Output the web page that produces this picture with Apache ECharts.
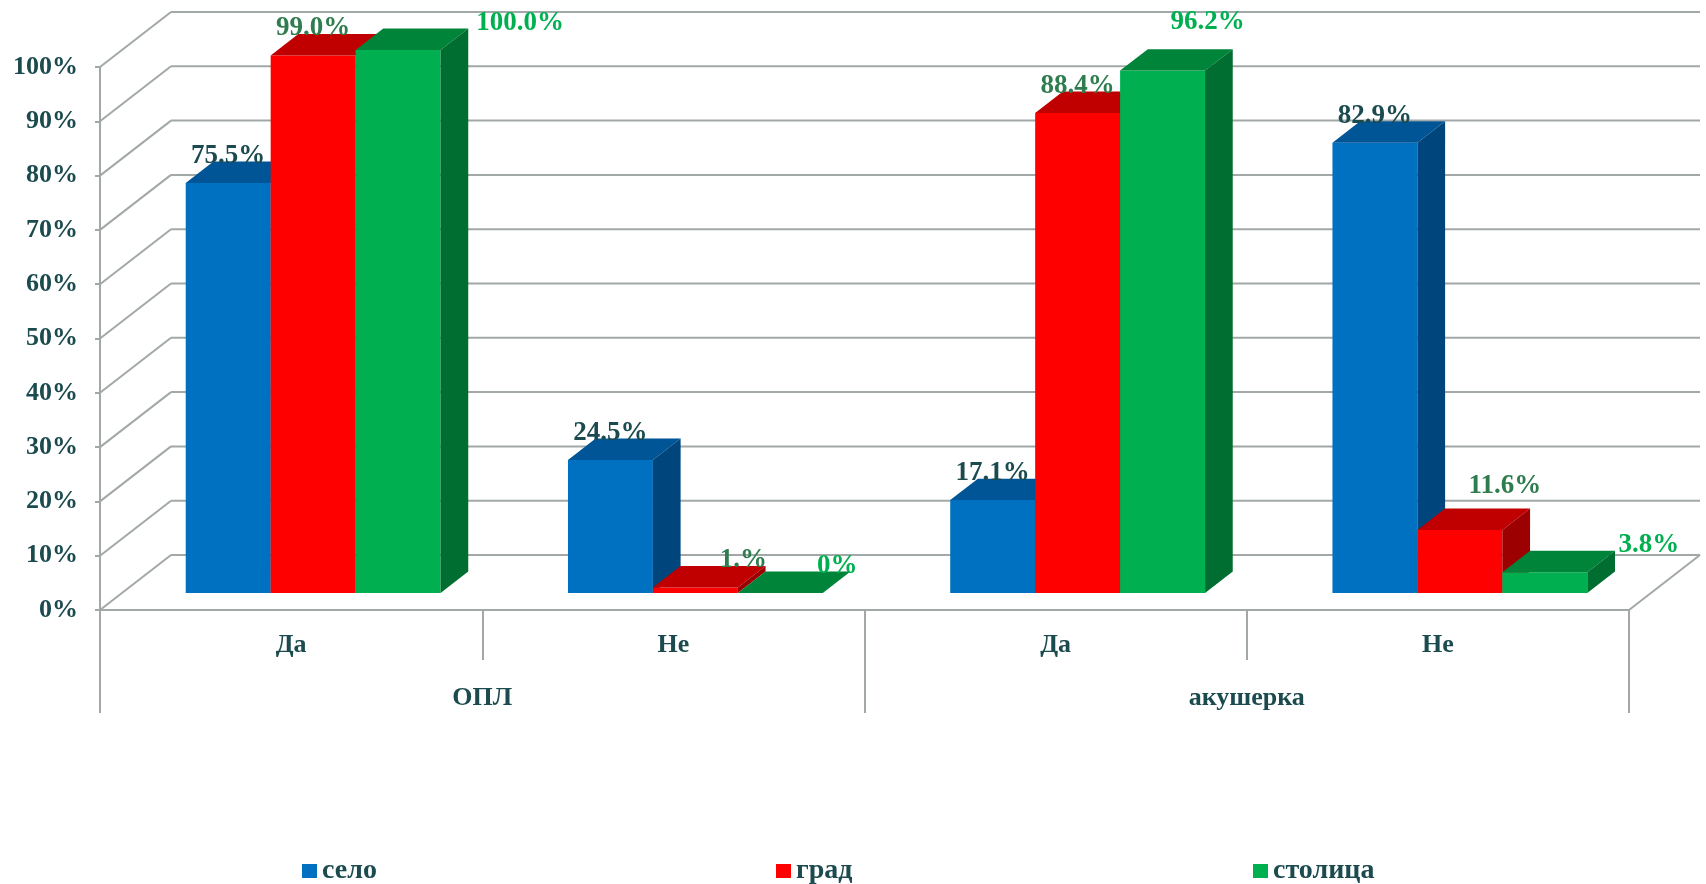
<!DOCTYPE html>
<html><head><meta charset="utf-8">
<script src="https://cdn.jsdelivr.net/npm/echarts@6/dist/echarts.min.js"></script>
<style>html,body{margin:0;padding:0;background:#fff}#c{width:1706px;height:884px}</style>
</head><body><div id="c"></div>
<script>
// ---- data ----
const categories = ['Да', 'Не', 'Да', 'Не'];
const groups = ['ОПЛ', 'акушерка'];
const seriesNames = ['село', 'град', 'столица'];
const seloValues = [75.5, 24.5, 17.1, 82.9];
const gradValues = [99.0, 1.0, 88.4, 11.6];
const stolicaValues = [100.0, 0.0, 96.2, 3.8];
const seloLabels = ['75.5%', '24.5%', '17.1%', '82.9%'];
const gradLabels = ['99.0%', '1.%', '88.4%', '11.6%'];
const stolicaLabels = ['100.0%', '0%', '96.2%', '3.8%'];
const yTicks = [0, 10, 20, 30, 40, 50, 60, 70, 80, 90, 100];

// ---- style ----
const FONT = 'Liberation Serif';
const TEXT = '#1B4B4F';
const GRID_COLOR = '#A2A8A8';
const DEPTH_X = 71, DEPTH_Y = 55;
const BAR_D1 = 0.31, BAR_D2 = 0.70;
const faceColors = [
  {front: '#0070C0', top: '#005596', side: '#00467C'},
  {front: '#FF0000', top: '#C00000', side: '#9C0000'},
  {front: '#00B050', top: '#00843A', side: '#006E30'}
];
const labelColors = [TEXT, '#2F7D4E', '#00B050'];
const labelShift = [
  [[0, 0], [0, 0], [0, 0], [0, 0]],
  [[0, 0], [48, 0], [0, 0], [45, -17]],
  [[122, 0], [57, 0], [45, -22], [104, 0]]
];
const legendLeft = [297, 771, 1248];

const allValues = [seloValues, gradValues, stolicaValues];
const allLabels = [seloLabels, gradLabels, stolicaLabels];

function barRender(s) {
  return function (params, api) {
    const i = api.value(0), v = api.value(1);
    const base = api.coord([i, 0]);
    const top = api.coord([i, v]);
    const cw = api.size([1, 0])[0];
    const bw = cw / 4.5;
    const x1 = base[0] - 1.5 * bw + s * bw + BAR_D1 * DEPTH_X;
    const x2 = x1 + bw;
    const yb = base[1] - BAR_D1 * DEPTH_Y;
    const yt = top[1] - BAR_D1 * DEPTH_Y;
    const dx = (BAR_D2 - BAR_D1) * DEPTH_X, dy = (BAR_D2 - BAR_D1) * DEPTH_Y;
    const c = faceColors[s];
    const sh = labelShift[s][params.dataIndex];
    return {
      type: 'group',
      children: [
        {type: 'polygon', z2: s + 1, shape: {points: [[x1, yt], [x2, yt], [x2, yb], [x1, yb]]}, style: {fill: c.front}},
        {type: 'polygon', z2: s + 1, shape: {points: [[x1, yt], [x1 + dx, yt - dy], [x2 + dx, yt - dy], [x2, yt]]}, style: {fill: c.top}},
        {type: 'polygon', z2: s + 1, shape: {points: [[x2, yt], [x2 + dx, yt - dy], [x2 + dx, yb - dy], [x2, yb]]}, style: {fill: c.side}},
        {type: 'text', z2: 20, style: {
          text: allLabels[s][params.dataIndex],
          x: (x1 + x2) / 2 + sh[0], y: yt - 27 + sh[1],
          fill: labelColors[s], font: 'bold 27px "' + FONT + '"',
          align: 'center', verticalAlign: 'middle'
        }}
      ]
    };
  };
}

function wallRender(params, api) {
  const v = api.value(1);
  const cs = params.coordSys;
  const y = api.coord([0, v])[1];
  const xL = cs.x, xR = cs.x + cs.width;
  const ls = {stroke: GRID_COLOR, lineWidth: 2};
  const ch = [
    {type: 'line', shape: {x1: xL, y1: y, x2: xL + DEPTH_X, y2: y - DEPTH_Y}, style: ls},
    {type: 'line', shape: {x1: xL + DEPTH_X, y1: y - DEPTH_Y, x2: xR + DEPTH_X, y2: y - DEPTH_Y}, style: ls}
  ];
  if (v === 0) ch.push({type: 'line', shape: {x1: xR, y1: y, x2: xR + DEPTH_X, y2: y - DEPTH_Y}, style: ls});
  return {type: 'group', children: ch};
}

const labelFont = {fontFamily: FONT, fontWeight: 'bold', fontSize: 26, color: TEXT};
const chart = echarts.init(document.getElementById('c'), null, {renderer: 'canvas'});
chart.setOption({
  animation: false,
  backgroundColor: '#fff',
  grid: {left: 100, right: 77, top: 67, bottom: 274},
  legend: seriesNames.map((n, k) => ({
    data: [n], left: legendLeft[k], top: 852, icon: 'rect', itemWidth: 15, itemHeight: 14,
    selectedMode: false,
    textStyle: {fontFamily: FONT, fontWeight: 'bold', fontSize: 28, color: TEXT}
  })),
  xAxis: [
    {type: 'category', data: categories, position: 'bottom',
      axisLine: {show: true, lineStyle: {color: GRID_COLOR, width: 2}},
      axisTick: {show: true, length: 50, interval: 0, lineStyle: {color: GRID_COLOR, width: 2}},
      axisLabel: Object.assign({margin: 22, interval: 0}, labelFont),
      splitLine: {show: false}},
    {type: 'category', data: groups, position: 'bottom',
      axisLine: {show: false},
      axisTick: {show: true, length: 103, interval: 0, lineStyle: {color: GRID_COLOR, width: 2}},
      axisLabel: Object.assign({margin: 75, interval: 0}, labelFont),
      splitLine: {show: false}}
  ],
  yAxis: {type: 'value', min: 0, max: 100, interval: 10,
    axisLine: {show: true, lineStyle: {color: GRID_COLOR, width: 2}},
    axisTick: {show: true, length: 5, lineStyle: {color: GRID_COLOR, width: 2}},
    splitLine: {show: false},
    axisLabel: Object.assign({margin: 22, formatter: '{value}%'}, labelFont)},
  series: [
    {type: 'custom', name: '_walls', z: 1, silent: true, renderItem: wallRender,
      data: yTicks.map(v => [0, v]), encode: {x: 0, y: 1}}
  ].concat(seriesNames.map((n, s) => ({
    type: 'custom', name: n, z: 2, itemStyle: {color: faceColors[s].front},
    renderItem: barRender(s), encode: {x: 0, y: 1},
    data: allValues[s].map((v, i) => [i, v])
  })))
});
</script></body></html>
